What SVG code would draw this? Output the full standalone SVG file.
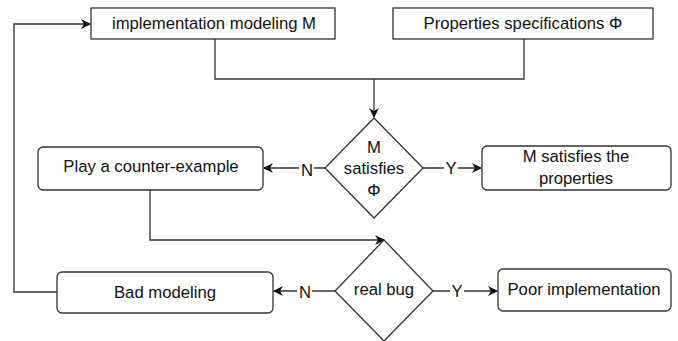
<svg xmlns="http://www.w3.org/2000/svg" width="678" height="341" viewBox="0 0 678 341">
<defs>
<style>
.box{fill:#fff;stroke:#333;stroke-width:1.3}
.t{font-family:"Liberation Sans",Arial,sans-serif;font-size:16.7px;fill:#111;text-anchor:middle;dominant-baseline:central}
.e{fill:none;stroke:#333;stroke-width:1.3}
.lbl{font-family:"Liberation Sans",Arial,sans-serif;font-size:16.7px;fill:#111;text-anchor:middle;dominant-baseline:central}
</style>
<marker id="a" viewBox="0 0 10 10" refX="9" refY="5" markerWidth="10" markerHeight="10" markerUnits="userSpaceOnUse" orient="auto">
<path d="M0,0 L10,5 L0,10 L3,5 Z" fill="#111"/>
</marker>
</defs>
<rect width="678" height="341" fill="#fff"/>
<g id="connectors">
<path class="e" d="M215,39 V79 H524 V39"/>
<path class="e" d="M374,79 V117" marker-end="url(#a)"/>
<path class="e" d="M325,168 H264" marker-end="url(#a)"/>
<path class="e" d="M423,168 H481" marker-end="url(#a)"/>
<path class="e" d="M150,190 V240 H384" marker-end="url(#a)"/>
<path class="e" d="M335,291 H274" marker-end="url(#a)"/>
<path class="e" d="M433,291 H497" marker-end="url(#a)"/>
<path class="e" d="M57,292 H14 V24 H90" marker-end="url(#a)"/>
<rect x="299" y="160" width="15" height="17" fill="#fff"/>
<text class="lbl" x="307" y="170">N</text>
<rect x="444" y="160" width="14" height="17" fill="#fff"/>
<text class="lbl" x="451" y="168">Y</text>
<rect x="297" y="283" width="15" height="17" fill="#fff"/>
<text class="lbl" x="305" y="292">N</text>
<rect x="450" y="283" width="14" height="17" fill="#fff"/>
<text class="lbl" x="457" y="291">Y</text>
</g>
<g id="impl">
<rect class="box" x="91" y="8" width="244" height="31"/>
<text class="t" x="214" y="23">implementation modeling M</text>
</g>
<g id="props">
<rect class="box" x="393" y="8" width="260" height="31"/>
<text class="t" x="523" y="23">Properties specifications Φ</text>
</g>
<g id="sat">
<path class="box" d="M374,118 L423,168 L374,218 L325,168 Z"/>
<text class="t" x="374" y="147">M</text>
<text class="t" x="374" y="168">satisfies</text>
<text class="t" x="374" y="190">Φ</text>
</g>
<g id="counter">
<rect class="box" x="38" y="147" width="225" height="43" rx="5"/>
<text class="t" x="151" y="166">Play a counter-example</text>
</g>
<g id="ok">
<rect class="box" x="482" y="146" width="189" height="44" rx="5"/>
<text class="t" x="576" y="156">M satisfies the</text>
<text class="t" x="576" y="178">properties</text>
</g>
<g id="bug">
<path class="box" d="M384,240 L433,291 L384,341 L335,291 Z"/>
<text class="t" x="384" y="289">real bug</text>
</g>
<g id="bad">
<rect class="box" x="57" y="272" width="216" height="41" rx="5"/>
<text class="t" x="165" y="292">Bad modeling</text>
</g>
<g id="poor">
<rect class="box" x="498" y="269" width="173" height="42" rx="5"/>
<text class="t" x="584" y="289">Poor implementation</text>
</g>
</svg>
